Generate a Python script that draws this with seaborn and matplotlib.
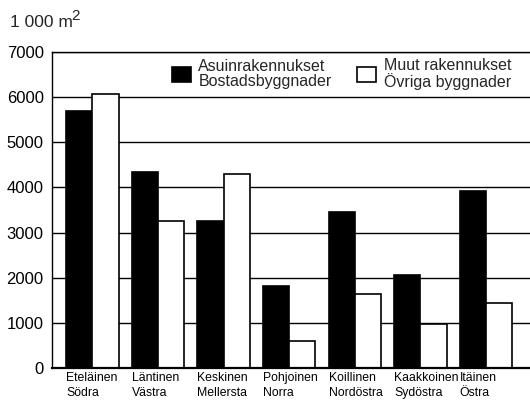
import matplotlib
matplotlib.use("Agg")
import matplotlib.pyplot as plt
import seaborn as sns
import numpy as np
import pandas as pd

regions = ["Eteläinen\nSödra", "Läntinen\nVästra", "Keskinen\nMellersta", "Pohjoinen\nNorra",
           "Koillinen\nNordöstra", "Kaakkoinen\nSydöstra", "Itäinen\nÖstra"]
series = ["Asuinrakennukset\nBostadsbyggnader", "Muut rakennukset\nÖvriga byggnader"]
residential = [5690, 4350, 3250, 1820, 3450, 2060, 3910]
other = [6070, 3250, 4290, 590, 1650, 980, 1430]
yticks = [0, 1000, 2000, 3000, 4000, 5000, 6000, 7000]
unit_main = "1 000 m"
unit_sup = "2"

sns.set_theme(style="white")
plt.rcParams['font.family'] = ['Liberation Sans', 'DejaVu Sans']

df = pd.DataFrame({
    "region": regions * 2,
    "series": [series[0]] * len(regions) + [series[1]] * len(regions),
    "value": residential + other,
})

fig = plt.figure(figsize=(5.30, 4.01), dpi=100)
ax = fig.add_axes([52 / 530, 1 - 368 / 401, 1 - 52 / 530 + 0.01, (368 - 52) / 401])

ax.set_axisbelow(True)
ax.yaxis.grid(True, color="black", linewidth=1.0)
ax.xaxis.grid(False)

sns.barplot(data=df, x="region", y="value", hue="series", order=regions, hue_order=series,
            palette=["black", "white"], edgecolor="black", linewidth=1.2, width=0.8,
            saturation=1, ax=ax, legend=True)

ax.set_ylim(0, 7000)
ax.set_xlim(-0.614, 6.75)
ax.set_yticks(yticks)
ax.set_yticklabels([str(t) for t in yticks], fontsize=12)
ax.set_xticks(np.arange(len(regions)) - 0.40)
ax.set_xticklabels(regions, fontsize=8.8, ha="left", linespacing=1.3)
ax.tick_params(axis="both", length=0, colors="black")
ax.tick_params(axis="y", pad=6)
ax.tick_params(axis="x", pad=3)
ax.set_xlabel("")
ax.set_ylabel("")

for s in ["left", "top", "bottom"]:
    ax.spines[s].set_visible(True)
    ax.spines[s].set_color("black")
ax.spines["left"].set_linewidth(1.0)
ax.spines["top"].set_linewidth(1.0)
ax.spines["bottom"].set_linewidth(1.6)
ax.spines["right"].set_visible(False)

handles, labels = ax.get_legend_handles_labels()
leg = ax.legend(handles, labels, ncol=2, frameon=False, fontsize=11.5,
                loc="upper left", bbox_to_anchor=(172 / 530, 1 - 58 / 401),
                bbox_transform=fig.transFigure, borderpad=0, borderaxespad=0,
                handlelength=1.2, handleheight=1.15, handletextpad=0.45,
                columnspacing=1.6, labelspacing=0.2)
for h in leg.legend_handles:
    h.set_edgecolor("black")
    h.set_linewidth(1.2)
for t in leg.get_texts():
    t.set_linespacing(1.0)

main = fig.text(10 / 530, 1 - 27 / 401, unit_main, fontsize=12.5, ha="left", va="baseline")
ax.annotate(unit_sup, xy=(1, 0), xycoords=main, xytext=(-1, 5), textcoords="offset points",
            fontsize=11, ha="left", va="bottom", annotation_clip=False)

fig.savefig("out.png", dpi=100)
